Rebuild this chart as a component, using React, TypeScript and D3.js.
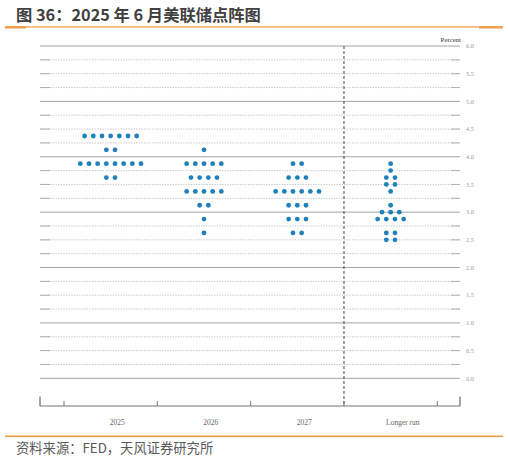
import React from "react";
import * as d3 from "d3";

const categories = ["2025", "2026", "2027", "Longer run"];
// rate levels and number of participants at each level
const dots2025: [number, number][] = [[4.375, 7], [4.125, 2], [3.875, 8], [3.625, 2]];
const dots2026: [number, number][] = [[4.125, 1], [3.875, 5], [3.625, 4], [3.375, 5], [3.125, 2], [2.875, 1], [2.625, 1]];
const dots2027: [number, number][] = [[3.875, 2], [3.625, 3], [3.375, 6], [3.125, 3], [2.875, 3], [2.625, 2]];
const dotsLonger: [number, number][] = [[3.875, 1], [3.75, 1], [3.625, 2], [3.5, 2], [3.375, 1], [3.125, 1], [3.0, 3], [2.875, 4], [2.625, 2], [2.5, 2]];
const seriesDots = [dots2025, dots2026, dots2027, dotsLonger];
const yTickLabels = ["0.0", "0.5", "1.0", "1.5", "2.0", "2.5", "3.0", "3.5", "4.0", "4.5", "5.0", "5.5", "6.0"];
const gridValues = d3.range(0, 6.0001, 0.25);

const title = "图 36：2025 年 6 月美联储点阵图";
const source = "资料来源：FED，天风证券研究所";

const W = 508;
const H = 460;
const plotLeft = 40;
const plotRight = 460;
const axisY = 406;
const dotSpacing = 8.67;
const labelOffsets = [6.5, 6.7, 6.9, 12.2];

export default function App() {
  const y = d3.scaleLinear().domain([0, 6]).range([378.3, 46]);
  const x = d3.scaleBand<string>().domain(categories).range([64, 437.3]).padding(0);
  const bw = x.bandwidth();
  const boundaries = [x(categories[0])!, ...categories.map((c) => x(c)! + bw)];
  const dividerX = x("Longer run")!;
  const serif = "'Liberation Serif', 'Times New Roman', serif";
  const cjk = "'Noto Sans CJK SC', 'Noto Sans', sans-serif";
  const orange = "#f29b45";

  const dots: { cx: number; cy: number; key: string }[] = [];
  seriesDots.forEach((rows, ci) => {
    const center = x(categories[ci])! + bw / 2;
    rows.forEach(([v, n]) => {
      for (let i = 0; i < n; i++) {
        dots.push({ cx: center + (i - (n - 1) / 2) * dotSpacing, cy: y(v), key: `${ci}-${v}-${i}` });
      }
    });
  });

  return (
    <svg width={W} height={H} style={{ position: "absolute", left: 0, top: 0, background: "#fff" }}>
      <text x={16} y={21} fontFamily={cjk} fontWeight="bold" fontSize={16.3} fill="#404040">{title}</text>
      <rect x={5} y={26.3} width={498} height={1.2} fill={orange} />
      <rect x={5} y={26.3} width={21} height={2.2} fill={orange} />
      <rect x={479} y={26.3} width={24} height={2.2} fill={orange} />

      {gridValues.map((v) => {
        const whole = Math.abs(v - Math.round(v)) < 1e-6;
        const yy = y(v);
        return whole ? (
          <line key={v} x1={plotLeft} x2={plotRight} y1={yy} y2={yy} stroke="#9a9a9a" strokeWidth={0.9} />
        ) : (
          <g key={v}>
            <line x1={plotLeft} x2={plotRight} y1={yy} y2={yy} stroke="#bcbcbc" strokeWidth={0.9} strokeDasharray="1.3,1.3" />
            <line x1={plotLeft} x2={plotLeft + 10} y1={yy} y2={yy} stroke="#aaaaaa" strokeWidth={0.9} />
            <line x1={plotRight - 9} x2={plotRight} y1={yy} y2={yy} stroke="#aaaaaa" strokeWidth={0.9} />
          </g>
        );
      })}

      {yTickLabels.map((t) => (
        <text key={t} x={466} y={y(+t)} dy="0.35em" fontFamily={serif} fontSize={6.3} fill="#9a9a9a">{t}</text>
      ))}
      <text x={461} y={42} textAnchor="end" fontFamily={serif} fontSize={6.8} fill="#333">Percent</text>

      <line x1={dividerX} x2={dividerX} y1={y(6)} y2={axisY} stroke="#333" strokeWidth={0.9} strokeDasharray="3,2" />

      <line x1={plotLeft} x2={plotRight} y1={axisY} y2={axisY} stroke="#666" strokeWidth={0.9} />
      <line x1={plotLeft} x2={plotLeft} y1={396.5} y2={axisY} stroke="#333" strokeWidth={0.9} />
      <line x1={plotRight} x2={plotRight} y1={396.5} y2={axisY} stroke="#333" strokeWidth={0.9} />
      {boundaries.map((b, i) => (
        <line key={i} x1={b} x2={b} y1={401} y2={axisY} stroke="#666" strokeWidth={0.9} />
      ))}
      {categories.map((c, i) => (
        <text key={c} x={x(c)! + bw / 2 + labelOffsets[i]} y={425} textAnchor="middle" fontFamily={serif} fontSize={7.5} fill="#666">{c}</text>
      ))}

      {dots.map((d) => (
        <circle key={d.key} cx={d.cx} cy={d.cy} r={2.4} fill="#1f80bb" />
      ))}

      <rect x={5} y={435.5} width={498} height={1.6} fill={orange} />
      <text x={16} y={453} fontFamily={cjk} fontSize={13.3} fill="#595959">{source}</text>
    </svg>
  );
}
